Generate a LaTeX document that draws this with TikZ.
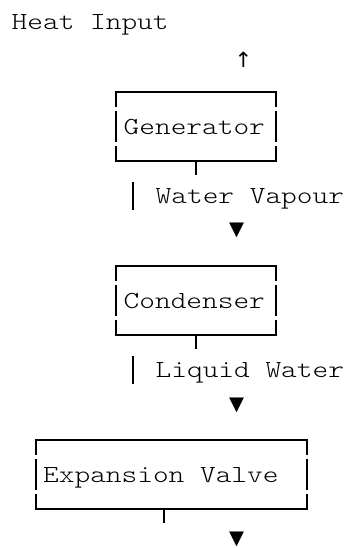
\documentclass[tikz,border=0pt]{standalone}
\usepackage{fontspec}
\setmonofont{lmmonolt10-regular.otf}[FakeStretch=1.22]
\newfontfamily\symfont{DejaVu Sans}
\begin{document}
\begin{tikzpicture}[x=1pt,y=-1pt,
  lbl/.style={font=\fontsize{24.5}{24.5}\selectfont\ttfamily, inner sep=0pt, anchor=base west},
  boxshape/.style={draw=none, inner sep=0pt, minimum width=#1, minimum height=69pt},
  edge/.style={line width=2pt, line cap=rect},
  pipe/.style={line width=2pt},
  tri/.style={font=\fontsize{19.5}{19.5}\selectfont\symfont, inner sep=0pt},
  uparr/.style={font=\fontsize{21}{21}\selectfont\symfont, inner sep=0pt},
]
\useasboundingbox (0,0) rectangle (350,548);

% title
\node[lbl] (heat) at (11.5,30) {Heat Input};
\node[uparr] (up) at (243.5,60) {↑};

% boxes
\node[boxshape=160pt] (gen) at (196,126.5) {};
\node[boxshape=160pt] (cond) at (196,300.5) {};
\node[boxshape=271pt] (exp) at (171.3,474.5) {};

\node[lbl] (gent) at (123.5,135) {Generator};
\node[lbl] (condt) at (123.5,308) {Condenser};
\node[lbl] (expt) at (43,482) {Expansion Valve};

\foreach \b in {gen,cond,exp}{
  \draw[edge] ([yshift=-14pt]\b.north west) -- (\b.north west) -- (\b.north east) -- ([yshift=-14pt]\b.north east);
  \draw[edge] ([yshift=14pt]\b.south west) -- (\b.south west) -- (\b.south east) -- ([yshift=14pt]\b.south east);
  \draw[edge] ([yshift=-20pt]\b.north west) -- ([yshift=-49pt]\b.north west);
  \draw[edge] ([yshift=-20pt]\b.north east) -- ([yshift=-49pt]\b.north east);
}

% stems
\draw[pipe] (gen.south) -- ++(0,14);
\draw[pipe] (cond.south) -- ++(0,14);
\draw[pipe] ([xshift=-7.3pt]exp.south) -- ++(0,14);

% flow labels
\coordinate (p1a) at (132.7,182);
\coordinate (p1b) at (132.7,210);
\draw[pipe] (p1a) -- (p1b);
\node[lbl] (wv) at (155.5,203) {Water Vapour};
\node[tri] (t1) at (236.5,230.5) {▼};

\coordinate (p2a) at (132.7,356);
\coordinate (p2b) at (132.7,384);
\draw[pipe] (p2a) -- (p2b);
\node[lbl] (lw) at (155.5,377) {Liquid Water};
\node[tri] (t2) at (236.5,405.5) {▼};

\node[tri] (t3) at (236.5,539) {▼};
\end{tikzpicture}
\end{document}
